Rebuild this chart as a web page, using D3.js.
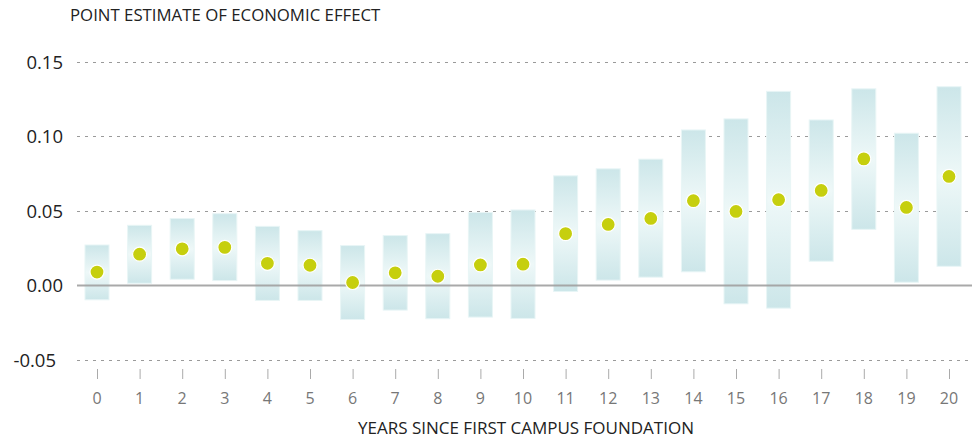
<!DOCTYPE html>
<html>
<head>
<meta charset="utf-8">
<script src="https://cdn.jsdelivr.net/npm/d3@7"></script>
<style>
  body { margin: 0; background: #fff; }
  svg { display: block; font-family: "Open Sans", sans-serif; }
</style>
</head>
<body>
<svg id="chart" width="972" height="440"></svg>
<script>
// years since first campus foundation
const years = d3.range(0, 21)
// point estimates
const estimate = [0.009, 0.021, 0.0246, 0.0256, 0.0149, 0.0136, 0.002, 0.0085, 0.0062, 0.0138, 0.0143,
                  0.0348, 0.041, 0.045, 0.0569, 0.0497, 0.0576, 0.0638, 0.085, 0.0524, 0.0732]
// confidence interval bounds
const upper = [0.0272, 0.0404, 0.0449, 0.0482, 0.0397, 0.0368, 0.0268, 0.0335, 0.0348, 0.049, 0.0507,
               0.0736, 0.0783, 0.0848, 0.1044, 0.1118, 0.1303, 0.1111, 0.132, 0.1022, 0.1334]
const lower = [-0.0096, 0.0015, 0.0042, 0.0033, -0.010, -0.010, -0.0228, -0.0165, -0.0223, -0.0212, -0.0221,
               -0.004, 0.0036, 0.0056, 0.0092, -0.0123, -0.0152, 0.0163, 0.0377, 0.0022, 0.0129]
const yTicks = [-0.05, 0, 0.05, 0.10, 0.15]

const svg = d3.select('#chart')

const x = d3.scalePoint()
    .domain(years)
    .range([97, 949])
const y = d3.scaleLinear()
    .domain([-0.05, 0.15])
    .range([360, 62])

const defs = svg.append('defs')
const grad = defs.append('linearGradient')
    .attr('id', 'barGrad')
    .attr('x1', 0).attr('y1', 0).attr('x2', 0).attr('y2', 1)
grad.append('stop').attr('offset', '0%').attr('stop-color', '#cce6e9')
grad.append('stop').attr('offset', '50%').attr('stop-color', '#eef8f8')
grad.append('stop').attr('offset', '100%').attr('stop-color', '#cce6e9')

// gridlines
svg.append('g')
    .selectAll('line')
    .data(yTicks.filter(d => d !== 0))
    .join('line')
    .attr('x1', 77)
    .attr('x2', 972)
    .attr('y1', d => Math.round(y(d)) + 0.5)
    .attr('y2', d => Math.round(y(d)) + 0.5)
    .attr('stroke', '#9a9a9a')
    .attr('stroke-width', 1)
    .attr('stroke-dasharray', '3,5')

// y tick labels (hyphen minus like the original)
svg.append('g')
    .selectAll('text')
    .data(yTicks)
    .join('text')
    .attr('x', d => d < 0 ? 56 : 63)
    .attr('y', d => y(d))
    .attr('dy', '0.36em')
    .attr('text-anchor', 'end')
    .attr('fill', '#222')
    .style('font-size', '18.5px')
    .text(d => d3.format('.2f')(d).replace('\u2212', '-'))

// confidence bars
const bw = 24
svg.append('g')
    .selectAll('rect')
    .data(years)
    .join('rect')
    .attr('x', d => x(d) - bw / 2)
    .attr('y', (d, i) => y(upper[i]))
    .attr('width', bw)
    .attr('height', (d, i) => y(lower[i]) - y(upper[i]))
    .attr('fill', 'url(#barGrad)')
    .attr('stroke', '#e8f5f6')
    .attr('stroke-width', 1)

// zero line
svg.append('line')
    .attr('x1', 77)
    .attr('x2', 972)
    .attr('y1', y(0))
    .attr('y2', y(0))
    .attr('stroke', '#a0a0a0')
    .attr('stroke-opacity', 0.9)
    .attr('stroke-width', 2)

// points
svg.append('g')
    .selectAll('circle')
    .data(years)
    .join('circle')
    .attr('cx', d => x(d))
    .attr('cy', (d, i) => y(estimate[i]))
    .attr('r', 7)
    .attr('fill', '#c6cf0e')
    .attr('stroke', '#fff')
    .attr('stroke-width', 1.2)

// x axis ticks and labels
const xAxis = svg.append('g')
xAxis.selectAll('line')
    .data(years)
    .join('line')
    .attr('x1', d => x(d) + 0.5)
    .attr('x2', d => x(d) + 0.5)
    .attr('y1', 369)
    .attr('y2', 379)
    .attr('stroke', '#aaa')
xAxis.selectAll('text')
    .data(years)
    .join('text')
    .attr('x', d => x(d))
    .attr('y', 404)
    .attr('text-anchor', 'middle')
    .attr('fill', '#777')
    .style('font-size', '16px')
    .text(d => d)

// titles
svg.append('text')
    .attr('x', 70)
    .attr('y', 21)
    .attr('fill', '#222')
    .style('font-size', '16.8px')
    .text('POINT ESTIMATE OF ECONOMIC EFFECT')
svg.append('text')
    .attr('x', 526)
    .attr('y', 434)
    .attr('text-anchor', 'middle')
    .attr('fill', '#222')
    .style('font-size', '17px')
    .text('YEARS SINCE FIRST CAMPUS FOUNDATION')
</script>
</body>
</html>
